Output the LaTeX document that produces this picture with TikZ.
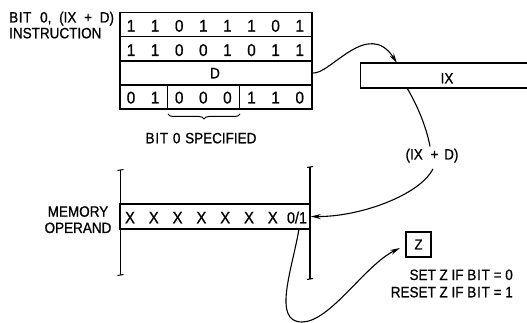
\documentclass[tikz,border=0pt]{standalone}
\usepackage{fontspec}
\setmainfont{Liberation Sans}[FakeStretch=0.9,FakeBold=0.8]
\usetikzlibrary{arrows.meta,calc,decorations.pathreplacing}
\begin{document}
\begin{tikzpicture}[x=1pt,y=-1pt,
  box/.style={draw,line width=1.4pt,inner sep=0pt},
  txt/.style={font=\fontsize{15}{17}\selectfont,inner sep=0pt},
  dig/.style={font=\fontsize{17}{19}\selectfont,inner sep=0pt,anchor=base},
  conn/.style={line width=1.1pt},
  arr/.style={conn,-{Stealth[length=10pt,width=5pt]}},
  tick/.style={line width=1pt}]
\useasboundingbox (0,0) rectangle (527,323);
\clip (0,0) rectangle (527,323);

% instruction
\node[txt,anchor=base west] (t1) at (9,22.5) {B\hspace{0.6pt}I\hspace{0.6pt}T\hspace{5pt} 0,\hspace{4pt} (IX\hspace{4pt} +\hspace{4pt} D)};
\node[txt,anchor=base west] (t2) at (9,38.3) {INSTRUCTION};
\node[box,minimum width=192pt,minimum height=24.2pt] (row1) at (216,24.6) {};
\node[box,minimum width=192pt,minimum height=24.2pt] (row2) at (216,48.8) {};
\node[box,minimum width=192pt,minimum height=24.2pt] (rowD) at (216,73) {};
\node[box,minimum width=192pt,minimum height=24.2pt] (row4) at (216,97.1) {};
\node[txt,anchor=base] (dlbl) at (215,78.3) {D};
\foreach \b [count=\i from 0] in {1,1,0,1,1,1,0,1}
  \node[dig] (a\i) at (131+24.1*\i,31.7) {\b};
\foreach \b [count=\i from 0] in {1,1,0,0,1,0,1,1}
  \node[dig] (b\i) at (131+24.1*\i,56) {\b};
\foreach \b [count=\i from 0] in {0,1,0,0,0,1,1,0}
  \node[dig] (c\i) at (131+24.1*\i,103.5) {\b};
\draw[line width=1.4pt] ($(row4.north west)+(48,0)$) -- ($(row4.south west)+(48,0)$);
\draw[line width=1.4pt] ($(row4.north west)+(120,0)$) -- ($(row4.south west)+(120,0)$);
\draw[decorate,decoration={brace,mirror,amplitude=5pt},line width=1pt] (168,114) -- (240,114);
\node[txt,anchor=base] (spec) at (201,143.3) {B\hspace{0.8pt}I\hspace{0.8pt}T\hspace{1pt} 0\hspace{1pt} SPECIFIED};

% IX register
\node[box,minimum width=190pt,minimum height=25pt,anchor=west] (ixbox) at (360,75.5) {};
\node[txt,anchor=base] (ixlbl) at (447,83.5) {IX};
\coordinate (ixin) at (397,63);
\coordinate (ixout) at (407,88);
\draw[arr] (rowD.east) .. controls (330,75) and (368,18) .. (ixin);
\node[txt,anchor=base,inner sep=0pt] (ixd) at (432,159.5) {(IX\hspace{4pt} +\hspace{2pt} D)};
\draw[conn] (ixout) .. controls (416,103) and (426,125) .. ($(ixd.north)+(-2,-2)$);

% memory
\node[txt,anchor=base] (m1) at (78,216.7) {MEMORY};
\node[txt,anchor=base] (m2) at (78,233) {OPERAND};
\node[box,minimum width=190pt,minimum height=25pt] (mem) at (215,216.5) {};
\draw[line width=1.4pt] (120.5,170) -- (120.5,275);
\draw[line width=1.4pt] (310,167) -- (310,279);
\draw[tick] (117.5,170.5) .. controls (119.5,168.5) and (121.5,171.5) .. (123.5,169.5);
\draw[tick] (117.5,275.5) .. controls (119.5,273.5) and (121.5,276.5) .. (123.5,274.5);
\draw[tick] (307,167.5) .. controls (309,165.5) and (311,168.5) .. (313,166.5);
\draw[tick] (307,279.5) .. controls (309,277.5) and (311,280.5) .. (313,278.5);
\foreach \i in {0,...,6}
  \node[dig,font=\fontsize{16.5}{18}\selectfont] (x\i) at (130+23.8*\i,223.3) {X};
\node[dig,font=\fontsize{16}{18}\selectfont] (x7) at (297,223.3) {0/1};
\draw[arr] ($(ixd.south)+(1,6)$) .. controls (420,195) and (360,217) .. (mem.east);

% Z flag
\node[box,minimum size=25pt,font=\fontsize{14.5}{16}\selectfont] (zbox) at (418.5,244.5) {Z};
\coordinate (bitout) at (299,229);
\coordinate (zin) at (400,248);
\draw[arr] (bitout) .. controls (292,270) and (272,322) .. (302,322)
  .. controls (330,322) and (365,265) .. (zin);
\node[txt,anchor=base east] (set) at (513,280) {SET Z IF B\hspace{0.8pt}I\hspace{0.8pt}T = 0};
\node[txt,anchor=base east] (reset) at (513,297.3) {RESET Z IF B\hspace{0.8pt}I\hspace{0.8pt}T = 1};
\end{tikzpicture}
\end{document}
